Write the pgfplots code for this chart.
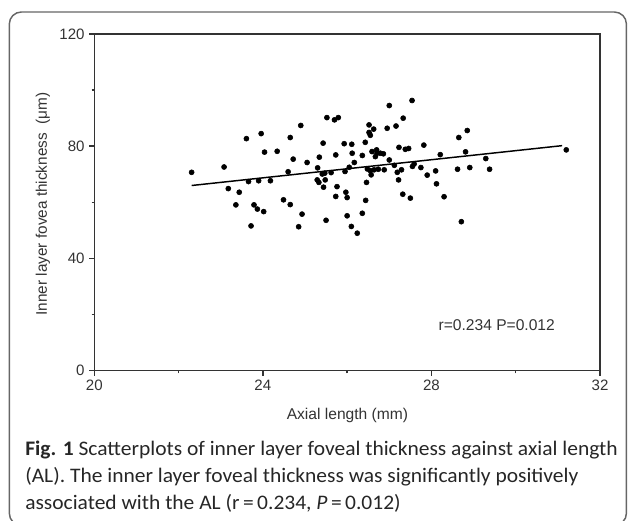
\documentclass[border=0pt]{standalone}
\usepackage{fontspec}
\setmainfont{Liberation Sans}
\newfontfamily\capfont[FakeStretch=1.04]{Carlito}
\usepackage{pgfplots}
\pgfplotsset{compat=1.18}
\definecolor{axgray}{HTML}{333333}
\definecolor{framegray}{HTML}{666666}
\begin{document}
\begin{tikzpicture}
\useasboundingbox (0,0) rectangle (471.75pt,-390.75pt);
\draw[framegray, line width=1.1pt, rounded corners=9pt] (7pt,-9pt) rectangle (469.8pt,-394pt);
\begin{axis}[
  at={(70.7pt,-278pt)}, anchor=south west,
  scale only axis, width=379.3pt, height=252.5pt,
  xmin=20, xmax=32, ymin=0, ymax=120,
  xtick={20,24,28,32}, ytick={0,40,80,120},
  minor xtick={22,26,30}, minor ytick={20,60,100},
  tick align=outside, tick pos=left,
  major tick length=3.75pt, minor tick length=2pt,
  axis line style={axgray, line width=1.1pt},
  every tick/.style={axgray, line width=1.1pt},
  tick label style={font=\fontsize{11.3}{13}\selectfont, text=axgray},
  /pgf/number format/assume math mode=true,
  clip=false,
]
\addplot[only marks, mark=*, mark size=1.9pt, black] coordinates {
(22.31,70.7) (23.08,72.6) (23.18,64.9) (23.36,59.1) (23.44,63.6) (23.61,82.7)
(23.66,67.4) (23.72,51.6) (23.79,59.1) (23.87,57.6) (23.90,67.7) (23.96,84.5)
(24.02,56.7) (24.04,77.9) (24.18,67.7) (24.34,78.2) (24.49,60.9) (24.60,70.9)
(24.65,83.1) (24.65,59.2) (24.72,75.4) (24.85,51.3) (24.90,87.4) (24.93,55.8)
(25.05,74.2) (25.29,68.0) (25.30,72.3) (25.33,67.1) (25.34,76.1) (25.41,70.1)
(25.43,81.1) (25.44,65.4) (25.47,70.4) (25.48,68.0) (25.50,53.6) (25.52,90.2)
(25.62,70.6) (25.70,89.4) (25.73,76.9) (25.73,62.1) (25.76,65.6) (25.79,90.2)
(25.93,80.9) (25.95,71.0) (25.97,63.6) (26.00,61.7) (26.00,55.2) (26.05,72.5)
(26.10,51.4) (26.11,80.7) (26.12,77.5) (26.17,74.2) (26.24,49.0) (26.36,76.7)
(26.36,56.1) (26.43,81.4) (26.44,60.7) (26.46,67.1) (26.48,71.9) (26.52,87.6)
(26.52,84.9) (26.55,83.9) (26.55,71.3) (26.57,69.8) (26.59,78.1) (26.63,86.1)
(26.64,71.6) (26.67,76.3) (26.70,78.7) (26.71,77.5) (26.74,71.8) (26.79,77.5)
(26.86,77.3) (26.88,71.6) (26.95,86.4) (27.00,94.5) (27.00,75.1) (27.12,73.2)
(27.16,87.2) (27.19,70.7) (27.22,68.0) (27.23,79.6) (27.29,71.6) (27.32,62.9)
(27.33,90.0) (27.38,78.9) (27.46,79.2) (27.50,61.5) (27.54,96.3) (27.55,72.8)
(27.59,73.7) (27.75,72.4) (27.82,80.4) (27.90,69.7) (28.10,71.2) (28.12,66.6)
(28.21,77.0) (28.30,62.0) (28.62,71.8) (28.65,83.1) (28.71,53.1) (28.81,78.0)
(28.85,85.6) (28.91,72.4) (29.29,75.6) (29.38,71.8) (31.20,78.7)
};
\addplot[black, line width=1.1pt] coordinates {(22.31,66.0) (31.10,80.2)};
\node[font=\fontsize{11.7}{14}\selectfont, text=axgray] at (axis cs:29.55,16.3) {r=0.234 P=0.012};
\end{axis}
\node[rotate=90, font=\fontsize{11.5}{14}\selectfont, text=axgray] at (32.25pt,-153pt) {Inner layer fovea thickness\ \ (μm)};
\node[font=\fontsize{11.7}{14}\selectfont, text=axgray] at (260.6pt,-311.25pt) {Axial length (mm)};
\begin{scope}[every node/.style={anchor=base west, inner sep=0pt, text=black!85, font=\capfont\fontsize{15.5}{19}\selectfont}]
\node at (18.75pt,-341.25pt) {\textbf{Fig. 1} Scatterplots of inner layer foveal thickness against axial length};
\node at (18.75pt,-361.5pt) {(AL). The inner layer foveal thickness was significantly positively};
\node at (18.75pt,-381.75pt) {associated with the AL (r\,=\,0.234, \textit{P}\,=\,0.012)};
\end{scope}
\end{tikzpicture}
\end{document}
